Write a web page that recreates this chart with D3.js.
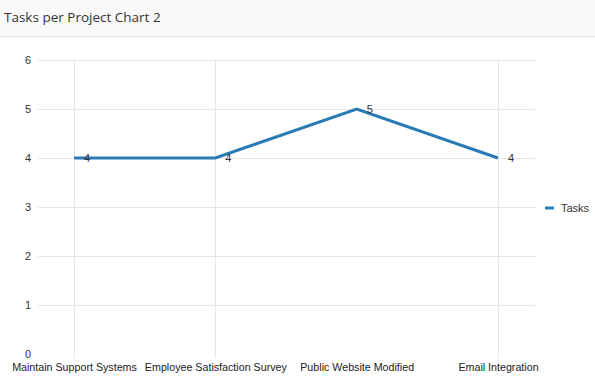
<!DOCTYPE html>
<html><head><meta charset="utf-8">
<script src="https://cdn.jsdelivr.net/npm/d3@7"></script>
<style>
html,body{margin:0;padding:0;background:#fff;}
svg{display:block;}
</style></head>
<body>
<script>
const title = "Tasks per Project Chart 2";
const categories = ["Maintain Support Systems","Employee Satisfaction Survey","Public Website Modified","Email Integration"];
const seriesName = "Tasks";
const tasks = [4, 4, 5, 4];
const yTicks = [0,1,2,3,4,5,6];
const verticalGridCats = ["Maintain Support Systems","Employee Satisfaction Survey","Email Integration"];

const W = 595, H = 392;
const svg = d3.select("body").append("svg").attr("width", W).attr("height", H);

// header
svg.append("rect").attr("x",0).attr("y",0).attr("width",W).attr("height",36).attr("fill","#fafafa");
svg.append("line").attr("x1",0).attr("x2",W).attr("y1",36.5).attr("y2",36.5).attr("stroke","#e3e3e3");
svg.append("text").attr("x",4).attr("y",22).text(title)
  .attr("font-family","'Open Sans', sans-serif").attr("font-size",13.5).attr("fill","#333");

const x = d3.scalePoint().domain(categories).range([74, 498]);
const y = d3.scaleLinear().domain([0,6]).range([354, 60]);

const font = "'Liberation Sans', Arial, sans-serif";

// horizontal grid
svg.append("g").selectAll("line").data(yTicks.filter(d=>d>0)).join("line")
  .attr("x1",38).attr("x2",535)
  .attr("y1",d=>Math.round(y(d))+0.5).attr("y2",d=>Math.round(y(d))+0.5)
  .attr("stroke","#e6e6e6");
// vertical grid
svg.append("g").selectAll("line").data(verticalGridCats).join("line")
  .attr("x1",d=>Math.round(x(d))+0.5).attr("x2",d=>Math.round(x(d))+0.5)
  .attr("y1",60).attr("y2",358)
  .attr("stroke","#e6e6e6");

// y axis labels
const yAxis = d3.axisLeft(y).tickValues(yTicks).tickFormat(d3.format("d")).tickSize(0).tickPadding(0);
const ya = svg.append("g").attr("transform","translate(31,0)").call(yAxis);
ya.select(".domain").remove();
ya.selectAll("text").attr("font-family",font).attr("font-size",11).attr("fill","#333");

// x axis labels
const xAxis = d3.axisBottom(x).tickSize(0).tickPadding(0);
const xa = svg.append("g").attr("transform","translate(0,363)").call(xAxis);
xa.select(".domain").remove();
xa.selectAll("text").attr("font-family",font).attr("font-size",10.7).attr("fill","#222");

// line
const data = categories.map((c,i)=>({c, v:tasks[i]}));
svg.append("path").datum(data)
  .attr("d", d3.line().x(d=>x(d.c)).y(d=>y(d.v)))
  .attr("fill","none").attr("stroke","#2a7ab5").attr("stroke-width",3).attr("stroke-linejoin","miter");

// value labels
svg.append("g").selectAll("text").data(data).join("text")
  .attr("x",d=>x(d.c)+10).attr("y",d=>y(d.v)).attr("dy","0.35em")
  .attr("font-family",font).attr("font-size",11).attr("fill","#333")
  .text(d=>d.v);

// legend
svg.append("line").attr("x1",545).attr("x2",554).attr("y1",208).attr("y2",208)
  .attr("stroke","#2a7ab5").attr("stroke-width",3);
svg.append("text").attr("x",561).attr("y",208).attr("dy","0.35em")
  .attr("font-family",font).attr("font-size",11).attr("fill","#333").text(seriesName);
</script>
</body></html>
